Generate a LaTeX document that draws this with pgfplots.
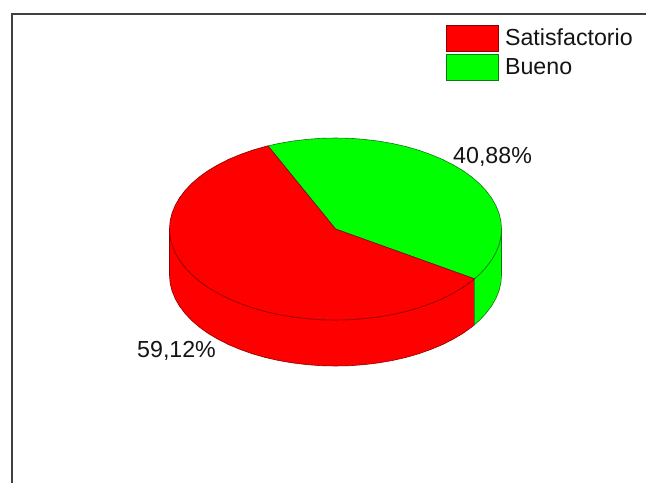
\documentclass[border=0pt]{standalone}
\usepackage{pgfplots}
\pgfplotsset{compat=1.18}
\usepackage{fontspec}
\setmainfont{Liberation Sans}
\definecolor{frameline}{HTML}{404040}
\definecolor{inktext}{HTML}{141414}
\definecolor{redslice}{HTML}{FF0000}
\definecolor{greenslice}{HTML}{00FF00}
\definecolor{rededge}{HTML}{8A0000}
\definecolor{greenedge}{HTML}{107A10}
\begin{document}
\begin{tikzpicture}
\useasboundingbox (0,0) rectangle (646bp,483bp);
\begin{axis}[
  scale only axis, width=646bp, height=483bp,
  xmin=0, xmax=646, ymin=0, ymax=483, y dir=reverse,
  hide axis, clip=false,
  font=\fontsize{23.2bp}{27bp}\selectfont,
  legend cell align=left,
  legend style={
    draw=none, fill=none, inner sep=0pt, outer sep=0pt,
    at={(axis cs:446,25)}, anchor=north west,
    row sep=2.2bp,
    nodes={inner sep=0pt, text=inktext},
    /tikz/column 1/.style={column sep=6.5bp},
  },
  legend image code/.code={%
    \draw[#1] (0bp,-6bp) rectangle (52bp,20bp);
  },
]
% Frame: left and top rules only
\addplot[frameline, line width=2bp, forget plot] coordinates {(12,483)(12,14.3)(646,14.3)};

% Outer wall of the Satisfactorio slice
\addplot[fill=redslice, draw=rededge, line width=0.6bp, forget plot] coordinates {
(169.5,229)(170.1,236.9)(172.0,244.8)(175.2,252.6)(179.5,260.1)(185.1,267.5)(191.7,274.5)(199.5,281.2)
(208.3,287.5)(218.1,293.3)(228.8,298.7)(240.3,303.5)(252.5,307.8)(265.3,311.5)(278.7,314.5)(292.5,316.9)
(306.7,318.6)(321.0,319.7)(335.5,320)(350.0,319.7)(364.3,318.6)(378.5,316.9)(392.3,314.5)(405.7,311.5)
(418.5,307.8)(430.7,303.5)(442.2,298.7)(452.9,293.3)(462.7,287.5)(471.5,281.2)(474.4,278.8)
(474.4,324.8)(471.5,327.2)(462.7,333.5)(452.9,339.3)(442.2,344.7)(430.7,349.5)(418.5,353.8)(405.7,357.5)
(392.3,360.5)(378.5,362.9)(364.3,364.6)(350.0,365.7)(335.5,366)(321.0,365.7)(306.7,364.6)(292.5,362.9)
(278.7,360.5)(265.3,357.5)(252.5,353.8)(240.3,349.5)(228.8,344.7)(218.1,339.3)(208.3,333.5)(199.5,327.2)
(191.7,320.5)(185.1,313.5)(179.5,306.1)(175.2,298.6)(172.0,290.8)(170.1,282.9)(169.5,275)
} -- cycle;

% Outer wall of the Bueno slice
\addplot[fill=greenslice, draw=greenedge, line width=0.6bp, forget plot] coordinates {
(474.4,278.8)(479.3,274.5)(485.9,267.5)(491.5,260.1)(495.8,252.6)(499.0,244.8)(500.9,236.9)(501.5,229)
(501.5,275)(500.9,282.9)(499.0,290.8)(495.8,298.6)(491.5,306.1)(485.9,313.5)(479.3,320.5)(474.4,324.8)
} -- cycle;

% Top face, Bueno
\addplot[fill=greenslice, draw=greenedge, line width=0.6bp, forget plot] coordinates {
(335.5,229)(474.4,278.8)(479.3,274.5)(485.9,267.5)(491.5,260.1)(495.8,252.6)(499.0,244.8)(500.9,236.9)
(501.5,229)(500.9,221.1)(499.0,213.2)(495.8,205.4)(491.5,197.9)(485.9,190.5)(479.3,183.5)(471.5,176.8)
(462.7,170.5)(452.9,164.7)(442.2,159.3)(430.7,154.5)(418.5,150.2)(405.7,146.5)(392.3,143.5)(378.5,141.1)
(364.3,139.4)(350.0,138.3)(335.5,138)(321.0,138.3)(306.7,139.4)(292.5,141.1)(278.7,143.5)(268.0,145.9)
} -- cycle;

% Top face, Satisfactorio
\addplot[fill=redslice, draw=rededge, line width=0.6bp, forget plot] coordinates {
(335.5,229)(268.0,145.9)(265.3,146.5)(252.5,150.2)(240.3,154.5)(228.8,159.3)(218.1,164.7)(208.3,170.5)
(199.5,176.8)(191.7,183.5)(185.1,190.5)(179.5,197.9)(175.2,205.4)(172.0,213.2)(170.1,221.1)(169.5,229)
(170.1,236.9)(172.0,244.8)(175.2,252.6)(179.5,260.1)(185.1,267.5)(191.7,274.5)(199.5,281.2)(208.3,287.5)
(218.1,293.3)(228.8,298.7)(240.3,303.5)(252.5,307.8)(265.3,311.5)(278.7,314.5)(292.5,316.9)(306.7,318.6)
(321.0,319.7)(335.5,320)(350.0,319.7)(364.3,318.6)(378.5,316.9)(392.3,314.5)(405.7,311.5)(418.5,307.8)
(430.7,303.5)(442.2,298.7)(452.9,293.3)(462.7,287.5)(471.5,281.2)(474.4,278.8)
} -- cycle;

% Slice percentages
\node[anchor=base west, inner sep=0pt, text=inktext] at (axis cs:453,163) {40,88\%};
\node[anchor=base west, inner sep=0pt, text=inktext] at (axis cs:137,357) {59,12\%};

\addlegendimage{fill=redslice, draw=rededge, line width=0.6bp}
\addlegendentry{\raisebox{-1bp}[0pt][0pt]{Satisfactorio}}
\addlegendimage{fill=greenslice, draw=greenedge, line width=0.6bp}
\addlegendentry{\raisebox{-1bp}[0pt][0pt]{Bueno}}
\end{axis}
\end{tikzpicture}
\end{document}
